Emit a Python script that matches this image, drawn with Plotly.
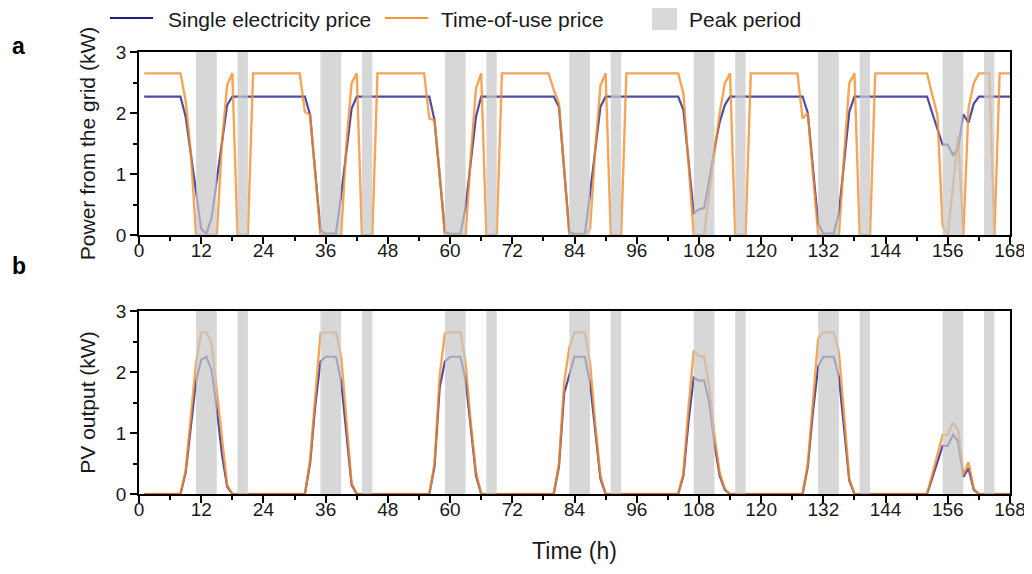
import plotly.graph_objects as go

# ---------------- data ----------------
hours = list(range(1, 169))

# Power from the grid (kW), one row per day (24 h)
grid_single = [
    2.27,2.27,2.27,2.27,2.27,2.27,2.27,2.27,1.94,1.30,0.65,0.10,0.02,0.28,0.90,1.50,2.13,2.27,2.27,2.27,2.27,2.27,2.27,2.27,
    2.27,2.27,2.27,2.27,2.27,2.27,2.27,2.27,1.97,1.00,0.08,0.02,0.02,0.03,0.66,1.37,2.07,2.27,2.27,2.27,2.27,2.27,2.27,2.27,
    2.27,2.27,2.27,2.27,2.27,2.27,2.27,2.27,1.88,1.00,0.05,0.02,0.02,0.02,0.46,1.20,1.94,2.27,2.27,2.27,2.27,2.27,2.27,2.27,
    2.27,2.27,2.27,2.27,2.27,2.27,2.27,2.27,2.10,1.10,0.05,0.02,0.02,0.02,0.68,1.40,2.10,2.27,2.27,2.27,2.27,2.27,2.27,2.27,
    2.27,2.27,2.27,2.27,2.27,2.27,2.27,2.27,2.05,1.20,0.36,0.42,0.44,0.90,1.42,1.85,2.13,2.27,2.27,2.27,2.27,2.27,2.27,2.27,
    2.27,2.27,2.27,2.27,2.27,2.27,2.27,2.27,2.00,1.10,0.19,0.02,0.02,0.03,0.36,1.20,2.02,2.27,2.27,2.27,2.27,2.27,2.27,2.27,
    2.27,2.27,2.27,2.27,2.27,2.27,2.27,2.27,2.00,1.75,1.48,1.48,1.31,1.42,1.98,1.84,2.15,2.27,2.27,2.27,2.27,2.27,2.27,2.27,
]
grid_tou = [
    2.65,2.65,2.65,2.65,2.65,2.65,2.65,2.65,2.20,1.35,0.00,0.00,0.00,0.00,0.00,1.50,2.46,2.65,0.00,0.00,0.00,2.65,2.65,2.65,
    2.65,2.65,2.65,2.65,2.65,2.65,2.65,2.02,1.97,1.00,0.00,0.00,0.00,0.00,0.00,1.50,2.49,2.65,0.00,0.00,0.00,2.65,2.65,2.65,
    2.65,2.65,2.65,2.65,2.65,2.65,2.65,1.91,1.88,1.00,0.00,0.00,0.00,0.00,0.00,1.30,2.40,2.65,0.00,0.00,0.00,2.65,2.65,2.65,
    2.65,2.65,2.65,2.65,2.65,2.65,2.65,2.38,2.16,1.10,0.00,0.00,0.00,0.00,0.10,1.40,2.45,2.65,0.00,0.00,0.00,2.65,2.65,2.65,
    2.65,2.65,2.65,2.65,2.65,2.65,2.65,2.65,2.32,1.20,0.00,0.00,0.00,0.70,1.40,2.00,2.49,2.65,0.00,0.00,0.00,2.65,2.65,2.65,
    2.65,2.65,2.65,2.65,2.65,2.65,2.65,1.91,2.00,1.00,0.00,0.00,0.00,0.00,0.00,1.30,2.49,2.65,0.00,0.00,0.00,2.65,2.65,2.65,
    2.65,2.65,2.65,2.65,2.65,2.65,2.65,2.65,2.30,1.97,0.15,0.00,0.80,1.62,0.00,2.08,2.49,2.65,2.65,2.65,0.00,2.65,2.65,2.65,
]

# PV output (kW)
pv_single = [
    0,0,0,0,0,0,0,0,0.35,1.15,1.85,2.20,2.25,2.03,1.40,0.65,0.12,0,0,0,0,0,0,0,
    0,0,0,0,0,0,0,0,0.50,1.45,2.17,2.25,2.25,2.25,1.84,1.00,0.15,0,0,0,0,0,0,0,
    0,0,0,0,0,0,0,0,0.45,1.75,2.17,2.25,2.25,2.25,1.87,1.05,0.30,0,0,0,0,0,0,0,
    0,0,0,0,0,0,0,0,0.45,1.65,1.95,2.25,2.25,2.25,1.82,1.00,0.25,0,0,0,0,0,0,0,
    0,0,0,0,0,0,0,0,0.30,1.20,1.91,1.86,1.86,1.50,0.82,0.30,0.07,0,0,0,0,0,0,0,
    0,0,0,0,0,0,0,0,0.45,1.35,2.09,2.25,2.25,2.25,1.92,1.10,0.22,0,0,0,0,0,0,0,
    0,0,0,0,0,0,0,0,0.26,0.53,0.79,0.79,0.97,0.86,0.28,0.42,0.07,0,0,0,0,0,0,0,
]
pv_tou = [
    0,0,0,0,0,0,0,0,0.39,1.30,2.15,2.65,2.65,2.47,1.67,0.86,0.15,0,0,0,0,0,0,0,
    0,0,0,0,0,0,0,0,0.56,1.65,2.63,2.65,2.65,2.65,2.25,1.20,0.18,0,0,0,0,0,0,0,
    0,0,0,0,0,0,0,0,0.50,1.95,2.63,2.65,2.65,2.65,2.14,1.16,0.37,0,0,0,0,0,0,0,
    0,0,0,0,0,0,0,0,0.50,1.82,2.40,2.65,2.65,2.65,2.15,1.15,0.30,0,0,0,0,0,0,0,
    0,0,0,0,0,0,0,0,0.34,1.43,2.35,2.26,2.26,1.75,0.95,0.35,0.08,0,0,0,0,0,0,0,
    0,0,0,0,0,0,0,0,0.50,1.54,2.55,2.65,2.65,2.65,2.33,1.30,0.25,0,0,0,0,0,0,0,
    0,0,0,0,0,0,0,0,0.32,0.65,0.97,0.97,1.17,1.05,0.31,0.52,0.09,0,0,0,0,0,0,0,
]

# Peak periods (h)
peak_periods = [
    (11, 15), (19, 21), (35, 39), (43, 45), (59, 63), (67, 69), (83, 87), (91, 93),
    (107, 111), (115, 117), (131, 135), (139, 141), (155, 159), (163, 165),
]

x_ticks = list(range(0, 169, 12))
series_names = ["Single electricity price", "Time-of-use price", "Peak period"]
panel_labels = ["a", "b"]
y_titles = ["Power from the grid (kW)", "PV output (kW)"]
x_title = "Time (h)"

# ---------------- style ----------------
BLUE = "rgba(45,45,150,0.85)"
ORANGE = "rgba(243,140,38,0.78)"
GRAY = "rgb(200,200,200)"
FONT = "Arial, Liberation Sans, sans-serif"
TXT = "#1a1a1a"
OFF = 8  # page body margin of the browser
W, H = 1032 - OFF, 574 - OFF
ML, MR, MT, MB = 139 - OFF, 22, 52 - OFF, 80
AXW = 1.8


def px(x):
    return (x - OFF - ML) / (W - ML - MR)


def py(y):
    return (H - MB - (y - OFF)) / (H - MT - MB)


fig = go.Figure()
for ys_b, ys_o, xa, ya in [(grid_single, grid_tou, "x", "y"), (pv_single, pv_tou, "x2", "y2")]:
    fig.add_trace(go.Scatter(x=hours, y=ys_b, mode="lines", line=dict(color=BLUE, width=2.2),
                             xaxis=xa, yaxis=ya, showlegend=False))
    fig.add_trace(go.Scatter(x=hours, y=ys_o, mode="lines", line=dict(color=ORANGE, width=2.4),
                             xaxis=xa, yaxis=ya, showlegend=False))

shapes = []
for xr, yr in [("x", "y domain"), ("x2", "y2 domain")]:
    for a, b in peak_periods:
        shapes.append(dict(type="rect", xref=xr, yref=yr, x0=a, x1=b, y0=0, y1=1,
                           fillcolor=GRAY, opacity=0.72, line=dict(width=0), layer="above"))

# manual legend
shapes.append(dict(type="line", xref="paper", yref="paper", x0=px(110), x1=px(153), y0=py(18), y1=py(18),
                   line=dict(color="rgb(30,30,130)", width=2)))
shapes.append(dict(type="line", xref="paper", yref="paper", x0=px(385), x1=px(428), y0=py(18), y1=py(18),
                   line=dict(color="rgb(245,150,50)", width=2)))
shapes.append(dict(type="rect", xref="paper", yref="paper", x0=px(652), x1=px(677), y0=py(30), y1=py(7),
                   fillcolor="rgb(217,217,217)", line=dict(width=0)))

LEGF = dict(family=FONT, size=21, color=TXT)
annotations = [
    dict(text=series_names[0], x=px(166), y=py(19), xref="paper", yref="paper", xanchor="left",
         yanchor="middle", showarrow=False, font=LEGF),
    dict(text=series_names[1], x=px(439), y=py(19), xref="paper", yref="paper", xanchor="left",
         yanchor="middle", showarrow=False, font=LEGF),
    dict(text=series_names[2], x=px(687), y=py(19), xref="paper", yref="paper", xanchor="left",
         yanchor="middle", showarrow=False, font=LEGF),
    dict(text="<b>%s</b>" % panel_labels[0], x=px(10), y=py(46), xref="paper", yref="paper", xanchor="left",
         yanchor="middle", showarrow=False, font=dict(family=FONT, size=23, color="#000")),
    dict(text="<b>%s</b>" % panel_labels[1], x=px(10), y=py(266), xref="paper", yref="paper", xanchor="left",
         yanchor="middle", showarrow=False, font=dict(family=FONT, size=23, color="#000")),
]

tickfont = dict(family=FONT, size=19, color=TXT)
titlefont = dict(family=FONT, size=21, color=TXT)


def xaxis(anchor, title=None):
    d = dict(range=[0, 168], tickvals=x_ticks, ticks="outside", ticklen=7, tickwidth=AXW,
             tickcolor="#000", showline=True, linecolor="#000", linewidth=AXW, mirror=True,
             showgrid=False, zeroline=False, tickfont=tickfont, anchor=anchor, domain=[0, 1],
             automargin=False, ticklabelstandoff=-10,
             minor=dict(dtick=6, tick0=0, ticks="outside", ticklen=4, tickwidth=AXW, tickcolor="#000",
                        showgrid=False))
    if title:
        d["title"] = dict(text=title, font=dict(family=FONT, size=23, color=TXT), standoff=24)
    return d


def yaxis(anchor, domain, title):
    return dict(range=[0, 3], tickvals=[0, 1, 2, 3], ticks="outside", ticklen=7, tickwidth=AXW,
                tickcolor="#000", showline=True, linecolor="#000", linewidth=AXW, mirror=True,
                showgrid=False, zeroline=False, tickfont=tickfont, anchor=anchor, domain=domain,
                automargin=False,
                minor=dict(dtick=0.5, tick0=0, ticks="outside", ticklen=4, tickwidth=AXW, tickcolor="#000",
                           showgrid=False),
                title=dict(text=title, font=titlefont, standoff=14))


fig.update_layout(
    width=W, height=H,
    margin=dict(l=ML, r=MR, t=MT, b=MB, autoexpand=False),
    paper_bgcolor="white", plot_bgcolor="white",
    showlegend=False,
    xaxis=xaxis("y"),
    yaxis=yaxis("x", [py(235), 1], y_titles[0]),
    xaxis2=xaxis("y2", x_title),
    yaxis2=yaxis("x2", [0, py(311)], y_titles[1]),
    shapes=shapes,
    annotations=annotations,
)

fig.write_html("out.html")
